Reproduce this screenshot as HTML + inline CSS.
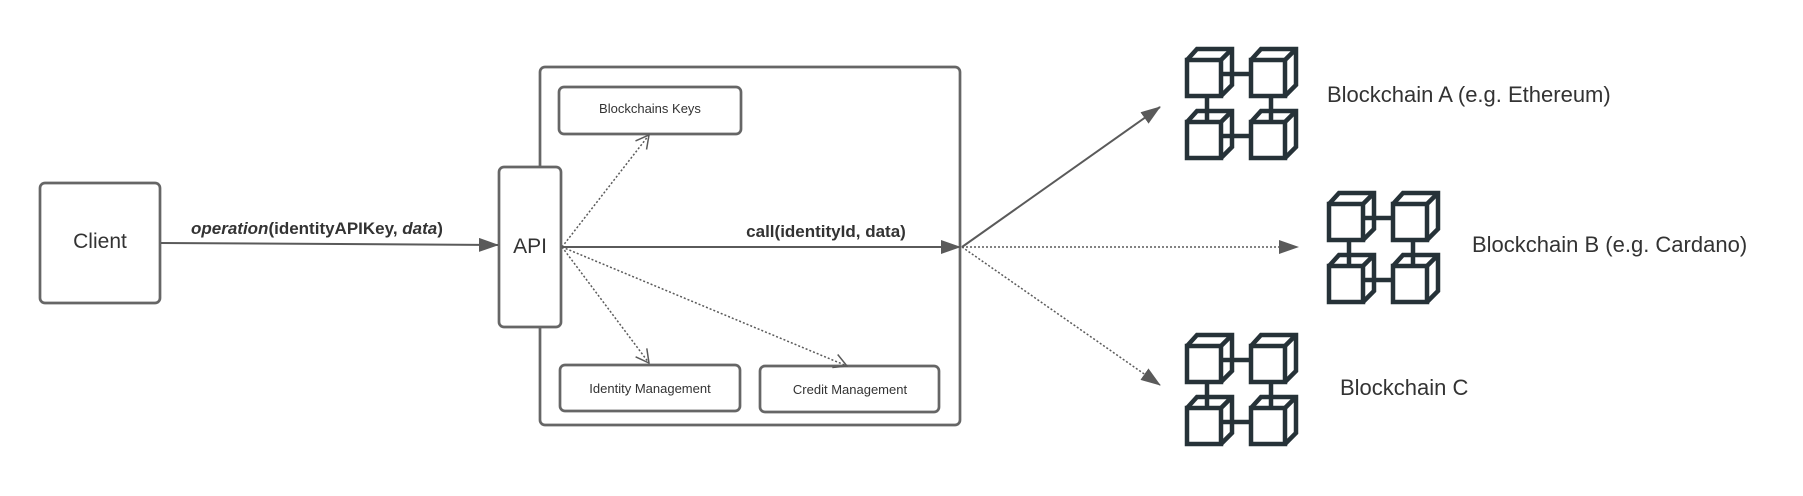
<!DOCTYPE html>
<html><head><meta charset="utf-8"><style>
html,body{margin:0;padding:0;background:#fff;}
svg{display:block;}
text{font-family:"Liberation Sans",sans-serif;fill:#333;}
</style></head><body>
<svg width="1803" height="496" viewBox="0 0 1803 496" xmlns="http://www.w3.org/2000/svg">
<defs>
<marker id="ah2" markerWidth="20" markerHeight="14" refX="19" refY="7" orient="auto" markerUnits="userSpaceOnUse" viewBox="0 0 20 14">
<path d="M0,0 L20,7 L0,14 z" fill="#5a5a5a"/>
</marker>
<marker id="oa" markerWidth="16" markerHeight="16" refX="15" refY="8" orient="auto" markerUnits="userSpaceOnUse" viewBox="0 0 16 16">
<path d="M2,1 L15,8 L2,15" fill="none" stroke="#5a5a5a" stroke-width="1.5"/>
</marker>
<g id="chain" fill="none" stroke="#263238" stroke-width="4.5" stroke-linejoin="miter">
 <g id="cube"><rect x="2" y="13" width="34" height="36"/><path d="M2,13 L12,2 L47,2 L47,38 L36,49 M36,13 L47,2"/></g>
 <use href="#cube" x="64"/>
 <use href="#cube" y="62"/>
 <use href="#cube" x="64" y="62"/>
 <path d="M36,27 L66,27 M36,89 L66,89 M22,49 L22,75 M86,49 L86,75"/>
</g>
</defs>
<g fill="none" stroke="#666" stroke-width="2.7">
 <rect x="40" y="183" width="120" height="120" rx="5"/>
 <rect x="540" y="67" width="420" height="358" rx="5"/>
 <rect x="499" y="167" width="62" height="160" rx="5" fill="#fff"/>
 <rect x="559" y="87" width="182" height="47" rx="5"/>
 <rect x="560" y="365" width="180" height="46" rx="5"/>
 <rect x="760" y="366" width="179" height="46" rx="5"/>
</g>
<g stroke="#5a5a5a" fill="none">
 <line x1="161" y1="243" x2="498" y2="245" stroke-width="2" marker-end="url(#ah2)"/>
 <line x1="562" y1="247" x2="960" y2="247" stroke-width="2" marker-end="url(#ah2)"/>
 <line x1="962" y1="247" x2="1160" y2="107" stroke-width="2" marker-end="url(#ah2)"/>
 <line x1="962" y1="247" x2="1298" y2="247" stroke-width="1.5" stroke-dasharray="2,2" marker-end="url(#ah2)"/>
 <line x1="962" y1="247" x2="1160" y2="385" stroke-width="1.5" stroke-dasharray="2,2" marker-end="url(#ah2)"/>
 <line x1="562" y1="247" x2="649" y2="135" stroke-width="1.5" stroke-dasharray="2,2" marker-end="url(#oa)"/>
 <line x1="562" y1="247" x2="649" y2="363" stroke-width="1.5" stroke-dasharray="2,2" marker-end="url(#oa)"/>
 <line x1="562" y1="247" x2="847" y2="366" stroke-width="1.5" stroke-dasharray="2,2" marker-end="url(#oa)"/>
</g>
<use href="#chain" x="1185" y="47"/>
<use href="#chain" x="1327" y="191"/>
<use href="#chain" x="1185" y="333"/>
<text x="100" y="248" font-size="21" text-anchor="middle">Client</text>
<text x="530" y="253" font-size="21" text-anchor="middle">API</text>
<text x="650" y="113" font-size="13" text-anchor="middle">Blockchains Keys</text>
<text x="650" y="393" font-size="13" text-anchor="middle">Identity Management</text>
<text x="850" y="394" font-size="13" text-anchor="middle">Credit Management</text>
<text x="191" y="234" font-size="17" font-weight="bold"><tspan font-style="italic">operation</tspan>(identityAPIKey, <tspan font-style="italic">data</tspan>)</text>
<text x="826" y="237" font-size="17" font-weight="bold" text-anchor="middle">call(identityId, data)</text>
<text x="1327" y="102" font-size="22">Blockchain A (e.g. Ethereum)</text>
<text x="1472" y="252" font-size="22">Blockchain B (e.g. Cardano)</text>
<text x="1340" y="395" font-size="22">Blockchain C</text>
</svg>
</body></html>
